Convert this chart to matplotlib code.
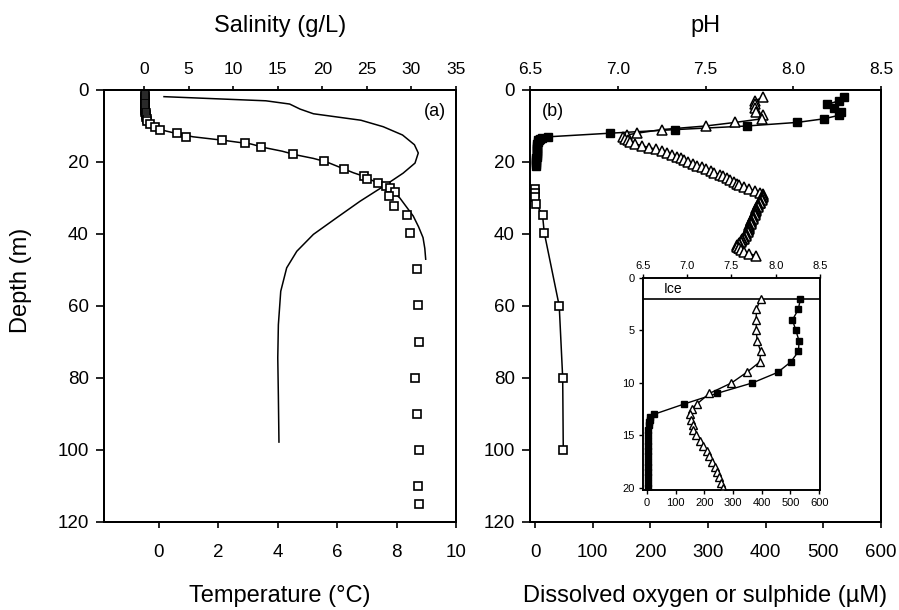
import matplotlib
matplotlib.use("Agg")
import matplotlib.pyplot as plt
from matplotlib.ticker import FormatStrFormatter

plt.rcParams['font.family'] = ['Liberation Sans', 'DejaVu Sans']

# ---------------- Panel (a) data ----------------
# Salinity bottle samples (open squares), top axis
sal_sq_depth = [1.5, 2, 2.5, 3, 3.5, 4, 4.5, 5, 5.5, 6, 6.5, 7, 7.5, 8, 8.5, 9.4, 10.2, 11.1, 12.0, 13.1,
                13.9, 14.6, 15.9, 17.9, 19.7, 21.9, 23.8, 24.7, 25.7, 26.6, 27.2, 28.4, 29.5, 32.1,
                34.6, 39.6, 49.6, 59.8, 69.9, 80, 90, 100, 110, 115]
sal_sq_value = [0.1, 0.1, 0.1, 0.1, 0.1, 0.1, 0.1, 0.15, 0.15, 0.15, 0.2, 0.2, 0.25, 0.3, 0.37, 0.67, 1.23, 1.8, 3.7, 4.7,
                8.8, 11.3, 13.1, 16.7, 20.2, 22.4, 24.7, 25.0, 26.3, 27.2, 27.6, 28.2, 27.5, 28.1,
                29.5, 29.8, 30.6, 30.7, 30.9, 30.4, 30.6, 30.9, 30.75, 30.9]

# Salinity CTD profile (line), top axis
sal_line_depth = [1.5, 4, 8, 9, 10, 11, 12, 13, 14, 15, 16, 17, 18, 19, 20, 21, 22, 23, 24, 25,
                  26, 27, 28, 30, 32, 35, 38, 41, 44, 47]
sal_line_value = [0.1, 0.1, 0.2, 0.5, 1.0, 1.8, 3.5, 5.5, 9.0, 12.0, 13.5, 15.5, 17.0, 19.0, 20.5, 21.5,
                  22.5, 23.5, 24.7, 25.5, 26.4, 27.2, 27.8, 28.7, 29.3, 30.2, 30.8, 31.3, 31.5, 31.6]

# Temperature profile (line), bottom axis
temp_depth = [1.85, 3.0, 3.9, 5.3, 6.6, 7.5, 8.4, 10.2, 12.5, 15.2, 17.5, 20.3, 23.1, 26.8, 30.9,
              35.5, 40.1, 44.8, 49.4, 55.9, 65.2, 74.4, 85.0, 97.8]
temp_value = [0.17, 3.6, 4.4, 4.75, 5.2, 6.0, 6.8, 7.55, 8.2, 8.6, 8.73, 8.62, 8.22, 7.55, 6.77,
              5.98, 5.2, 4.64, 4.3, 4.1, 4.02, 4.0, 4.02, 4.04]

# ---------------- Panel (b) data ----------------
# pH (open triangles), top axis
ph_depth = [2, 3, 4, 5, 6, 7, 8, 9, 10, 11, 12, 12.5, 13, 13.5, 14, 14.5, 15, 15.5, 16, 16.5, 17, 17.5,
            18, 18.5, 19, 19.5, 20, 20.5, 21, 21.5, 22, 22.5, 23, 23.5, 24, 24.5, 25, 25.5, 26, 26.5,
            27, 27.5, 28, 28.5, 29, 29.25, 29.5, 29.75, 30, 30.25, 30.5, 30.75, 31, 31.25, 31.5, 31.75,
            32, 32.25, 32.5, 32.75, 33, 33.25, 33.5, 33.75, 34, 34.25, 34.5, 34.75, 35, 35.25, 35.5,
            35.75, 36, 36.25, 36.5, 36.75, 37, 37.25, 37.5, 37.75, 38, 38.25, 38.5, 38.75, 39, 39.25,
            39.5, 39.75, 40, 40.25, 40.5, 40.75, 41, 41.25, 41.5, 41.75, 42, 42.25, 42.5, 42.75, 43,
            43.25, 43.5, 43.75, 44, 44.5, 45, 45.5, 46]
ph_value = [7.83, 7.78, 7.78, 7.78, 7.79, 7.83, 7.82, 7.67, 7.50, 7.25, 7.11, 7.05, 7.03, 7.04, 7.06,
            7.07, 7.10, 7.14, 7.18, 7.22, 7.25, 7.28, 7.31, 7.34, 7.36, 7.38, 7.40, 7.43, 7.45, 7.48,
            7.50, 7.53, 7.55, 7.58, 7.60, 7.62, 7.64, 7.66, 7.68, 7.69, 7.72, 7.75, 7.78, 7.81, 7.83,
            7.83, 7.83, 7.83, 7.82, 7.82, 7.82, 7.81, 7.81, 7.81, 7.81, 7.80, 7.80, 7.80, 7.80, 7.79,
            7.79, 7.79, 7.79, 7.78, 7.78, 7.78, 7.78, 7.78, 7.77, 7.77, 7.77, 7.77, 7.76, 7.76, 7.76,
            7.76, 7.76, 7.76, 7.75, 7.75, 7.75, 7.75, 7.75, 7.74, 7.74, 7.74, 7.74, 7.73, 7.73, 7.73,
            7.73, 7.72, 7.72, 7.72, 7.71, 7.71, 7.70, 7.70, 7.69, 7.69, 7.68, 7.68, 7.68, 7.69, 7.69,
            7.70, 7.72, 7.75, 7.79]

# Dissolved oxygen (filled squares), bottom axis
ox_depth = [2, 3, 4, 5, 6, 7, 8, 9, 10, 11, 12, 13, 13.25, 13.5, 13.75, 14, 14.5, 15, 15.5, 16, 16.5,
            17, 17.5, 18, 18.5, 19, 19.5, 20, 20.5, 21]
ox_value = [535, 527, 507, 519, 530, 528, 501, 455, 367, 243, 130, 23, 12, 9, 7, 6, 5, 4, 4, 3, 3,
            3, 3, 3, 3, 2, 2, 2, 2, 2]

# Sulphide (open squares), bottom axis
sul_depth = [27.6, 28.7, 29.8, 31.7, 34.7, 39.6, 60, 80, 100]
sul_value = [0, 0, 0, 2, 13, 16, 42, 48, 49]

W, H = 899, 610
fig = plt.figure(figsize=(W / 100, H / 100), dpi=100)

def frac(x0, y0, x1, y1):
    return [x0 / W, 1 - y1 / H, (x1 - x0) / W, (y1 - y0) / H]

TICK_FS = 13.5
LABEL_FS = 17

# ---------- left panel ----------
ax1 = fig.add_axes(frac(104, 90, 456, 522))
ax1.plot(temp_value, temp_depth, color='black', lw=1.1)
ax1.set_xlim(-1.85, 10)
ax1.set_ylim(120, 0)
ax1.set_xticks([0, 2, 4, 6, 8, 10])
ax1.set_yticks([0, 20, 40, 60, 80, 100, 120])
ax1.tick_params(axis='x', direction='out', length=4, width=1.2, pad=12, labelsize=TICK_FS)
ax1.tick_params(axis='y', direction='out', length=6, width=1.2, pad=5, labelsize=TICK_FS)
ax1.set_xlabel('Temperature (°C)', fontsize=LABEL_FS, labelpad=17)
ax1.set_ylabel('Depth (m)', fontsize=LABEL_FS)
ax1.yaxis.set_label_coords(-0.205, 0.56)

ax1t = ax1.twiny()
ax1t.plot(sal_line_value, sal_line_depth, color='black', lw=1.1)
ax1t.plot(sal_sq_value, sal_sq_depth, linestyle='none', marker='s', markersize=6,
          markerfacecolor='white', markeredgecolor='black', markeredgewidth=1.2)
ax1t.set_xlim(-4.49, 35)
ax1t.set_ylim(120, 0)
ax1t.set_xticks([0, 5, 10, 15, 20, 25, 30, 35])
ax1t.tick_params(axis='x', direction='out', length=3, width=1.2, pad=6, labelsize=12.5)
ax1t.set_xlabel('Salinity (g/L)', fontsize=LABEL_FS, labelpad=22)
ax1.text(0.94, 0.95, '(a)', transform=ax1.transAxes, ha='center', va='center', fontsize=13)

# ---------- right panel ----------
ax2 = fig.add_axes(frac(530, 90, 881, 522))
ax2.plot(ox_value, ox_depth, color='black', lw=1.1, marker='s', markersize=6,
         markerfacecolor='black', markeredgecolor='black')
ax2.plot(sul_value, sul_depth, color='black', lw=1.1, marker='s', markersize=6,
         markerfacecolor='white', markeredgecolor='black', markeredgewidth=1.2)
ax2.set_xlim(-8.7, 600)
ax2.set_ylim(120, 0)
ax2.set_xticks([0, 100, 200, 300, 400, 500, 600])
ax2.set_yticks([0, 20, 40, 60, 80, 100, 120])
ax2.tick_params(axis='x', direction='out', length=4, width=1.2, pad=12, labelsize=TICK_FS)
ax2.tick_params(axis='y', direction='out', length=6, width=1.2, pad=5, labelsize=TICK_FS)
ax2.set_xlabel('Dissolved oxygen or sulphide (µM)', fontsize=LABEL_FS, labelpad=17)

ax2t = ax2.twiny()
ax2t.plot(ph_value, ph_depth, color='black', lw=1.1, marker='^', markersize=7.5,
          markerfacecolor='white', markeredgecolor='black', markeredgewidth=1.1)
ax2t.set_xlim(6.5, 8.5)
ax2t.set_ylim(120, 0)
ax2t.set_xticks([6.5, 7.0, 7.5, 8.0, 8.5])
ax2t.xaxis.set_major_formatter(FormatStrFormatter('%.1f'))
ax2t.tick_params(axis='x', direction='out', length=3, width=1.2, pad=6, labelsize=12.5)
ax2t.set_xlabel('pH', fontsize=LABEL_FS, labelpad=22)
ax2.text(0.066, 0.95, '(b)', transform=ax2.transAxes, ha='center', va='center', fontsize=13)

for a in (ax1, ax1t, ax2, ax2t):
    for s in a.spines.values():
        s.set_linewidth(1.4)

# ---------- inset ----------
axi = fig.add_axes(frac(643, 278, 820, 490))
axi.plot(ox_value, ox_depth, color='black', lw=1.0, marker='s', markersize=5,
         markerfacecolor='black', markeredgecolor='black')
axi.set_xlim(-14, 603)
axi.set_ylim(20.2, 0)
axi.set_xticks([0, 100, 200, 300, 400, 500, 600])
axi.set_yticks([0, 5, 10, 15, 20])
axi.tick_params(axis='both', direction='out', length=3, width=1.0, pad=3, labelsize=8)
axi.axhline(2, color='black', lw=1.2)
axi.text(0.17, 0.95, 'Ice', transform=axi.transAxes, ha='center', va='center', fontsize=10)

axit = axi.twiny()
axit.plot(ph_value, ph_depth, color='black', lw=1.0, marker='^', markersize=5.5,
          markerfacecolor='white', markeredgecolor='black', markeredgewidth=1.0)
axit.set_xlim(6.5, 8.5)
axit.set_ylim(20.2, 0)
axit.set_xticks([6.5, 7.0, 7.5, 8.0, 8.5])
axit.xaxis.set_major_formatter(FormatStrFormatter('%.1f'))
axit.tick_params(axis='x', direction='out', length=3, width=1.0, pad=2, labelsize=8)
for a in (axi, axit):
    for s in a.spines.values():
        s.set_linewidth(1.2)

fig.savefig('out.png', dpi=100)
